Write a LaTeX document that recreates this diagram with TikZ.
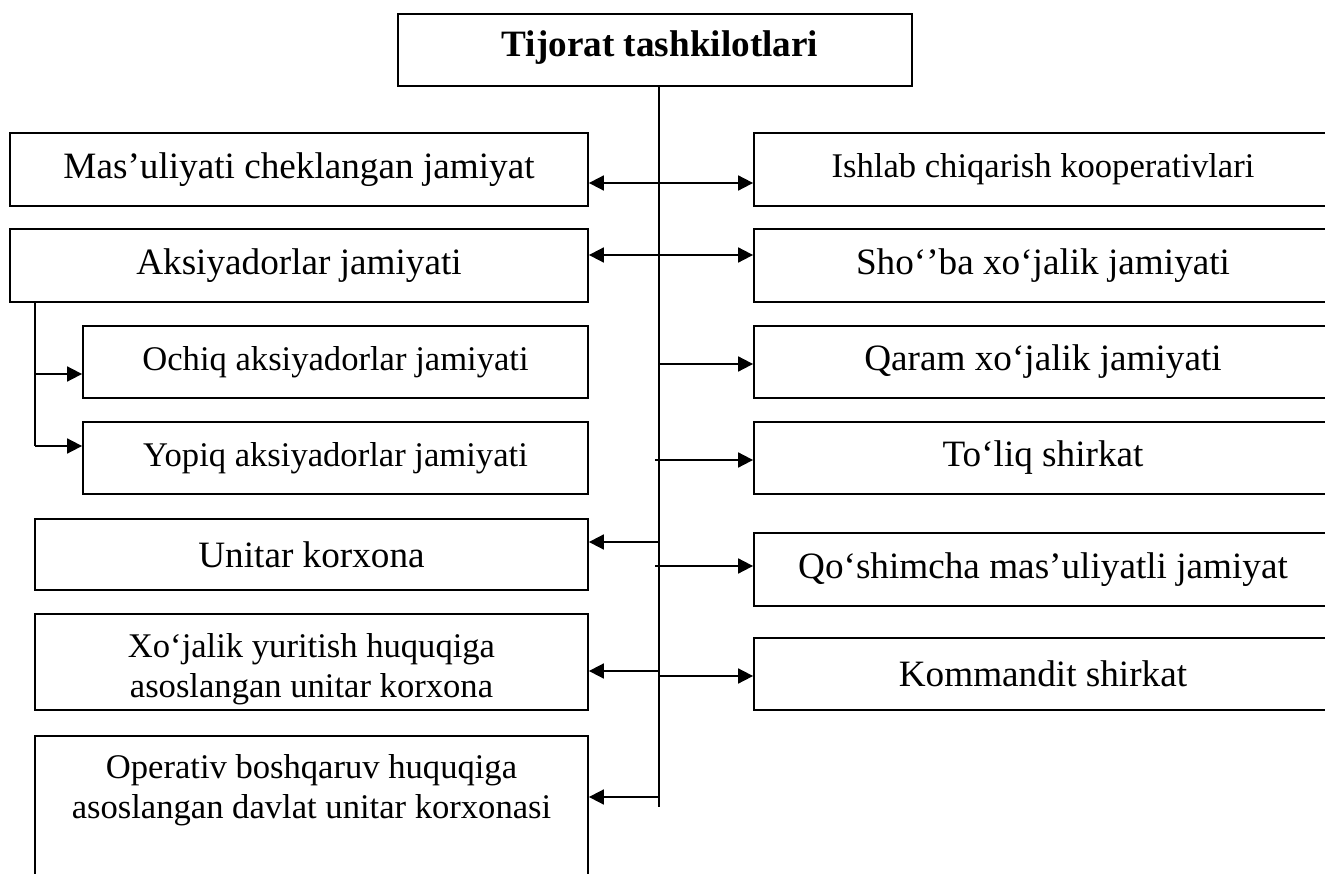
\documentclass[tikz,border=0pt]{standalone}
\usepackage{fontspec}
\setmainfont{Liberation Serif}
\usetikzlibrary{arrows.meta}
\newcommand\BigF{\fontsize{37.2}{43}\selectfont}
\newcommand\SmallF{\fontsize{34.6}{40}\selectfont}
\begin{document}
\begin{tikzpicture}[x=1pt,y=-1pt,
  box/.style={draw, line width=1.8pt, inner sep=0pt, align=center},
  conn/.style={line width=1.8pt},
  arr/.style={line width=1.8pt, -{Triangle[length=15pt,width=15pt]}}]
\useasboundingbox (0,0) rectangle (1325,874);
\clip (0,0) rectangle (1325,874);
% top
\node[box, minimum width=514pt, minimum height=72pt] (top) at (655,50) {};
\node[font=\BigF\bfseries, inner sep=0pt] (topt) at (660,48) {Tijorat tashkilotlari};
% left column
\node[box, minimum width=578pt, minimum height=73pt, font=\BigF] (mas) at (299,169.5) {Mas’uliyati cheklangan jamiyat};
\node[box, minimum width=578pt, minimum height=73pt, font=\BigF] (aks) at (299,265.5) {Aksiyadorlar jamiyati};
\node[box, minimum width=505pt, minimum height=72pt, font=\SmallF] (och) at (335.5,362) {Ochiq aksiyadorlar jamiyati};
\node[box, minimum width=505pt, minimum height=72pt, font=\SmallF] (yop) at (335.5,458) {Yopiq aksiyadorlar jamiyati};
\node[box, minimum width=553pt, minimum height=71pt, font=\BigF] (uni) at (311.5,554.5) {Unitar korxona};
\node[box, minimum width=553pt, minimum height=96pt] (xoj) at (311.5,662) {};
\node[align=center, font=\SmallF, inner sep=0pt] (xojt) at (311.5,669) {Xo‘jalik yuritish huquqiga\\asoslangan unitar korxona};
\node[box, minimum width=553pt, minimum height=165pt, anchor=north] (ope) at (311.5,735) {};
\node[align=center, font=\SmallF, inner sep=0pt] (opet) at (311.5,790) {Operativ boshqaruv huquqiga\\asoslangan davlat unitar korxonasi};
% right column
\node[box, minimum width=578pt, minimum height=73pt, font=\SmallF] (ish) at (1043,169.5) {Ishlab chiqarish kooperativlari};
\node[box, minimum width=578pt, minimum height=73pt, font=\BigF] (sho) at (1043,265.5) {Sho‘’ba xo‘jalik jamiyati};
\node[box, minimum width=578pt, minimum height=72pt, font=\BigF] (qar) at (1043,362) {Qaram xo‘jalik jamiyati};
\node[box, minimum width=578pt, minimum height=72pt, font=\BigF] (tol) at (1043,458) {To‘liq shirkat};
\node[box, minimum width=578pt, minimum height=73pt, font=\BigF] (qos) at (1043,569.5) {Qo‘shimcha mas’uliyatli jamiyat};
\node[box, minimum width=578pt, minimum height=72pt, font=\BigF] (kom) at (1043,674) {Kommandit shirkat};
% trunk
\coordinate (tend) at (659,807);
\draw[conn] (top.south -| tend) -- (tend);
\coordinate (t1) at (659,183);
\coordinate (t2) at (659,255);
\coordinate (t3) at (659,364);
\coordinate (t4) at (655,460);
\coordinate (t5) at (659,542);
\coordinate (t6) at (655,566);
\coordinate (t7) at (659,671);
\coordinate (t8) at (659,676);
\coordinate (t9) at (659,797);
\draw[arr] (t1) -- (mas.east |- t1);
\draw[arr] (t1) -- (ish.west |- t1);
\draw[arr] (t2) -- (aks.east |- t2);
\draw[arr] (t2) -- (sho.west |- t2);
\draw[arr] (t3) -- (qar.west |- t3);
\draw[arr] (t4) -- (tol.west |- t4);
\draw[arr] (t5) -- (uni.east |- t5);
\draw[arr] (t6) -- (qos.west |- t6);
\draw[arr] (t7) -- (xoj.east |- t7);
\draw[arr] (t8) -- (kom.west |- t8);
\draw[arr] (t9) -- (ope.east |- t9);
% inner branch
\coordinate (k0) at (35,302);
\coordinate (k1) at (35,374);
\coordinate (k2) at (35,446);
\draw[conn] (k0) -- (k2);
\draw[arr] (k1) -- (och.west |- k1);
\draw[arr] (k2) -- (yop.west |- k2);
\end{tikzpicture}
\end{document}
